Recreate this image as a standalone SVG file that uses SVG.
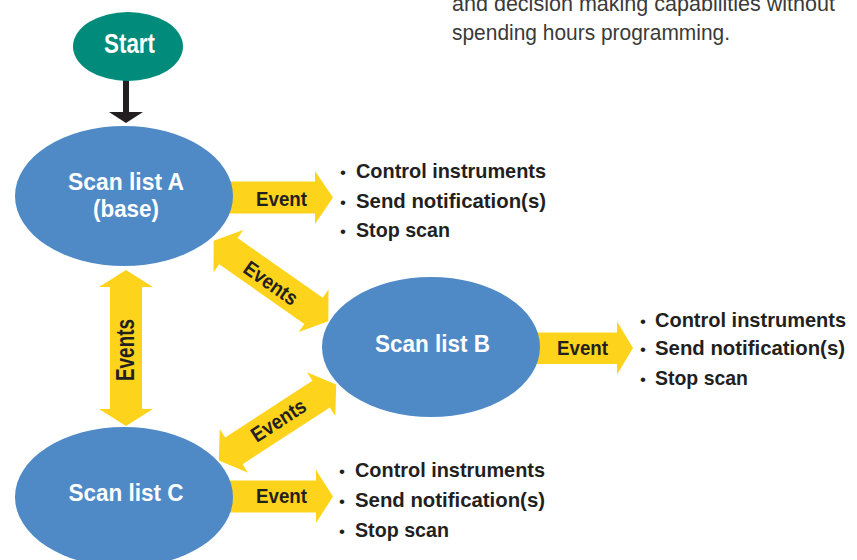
<svg xmlns="http://www.w3.org/2000/svg" width="857" height="560" viewBox="0 0 857 560">
<style>
.t{font-family:"Liberation Sans Narrow","Liberation Sans",Arial,sans-serif;font-weight:bold}
.w{fill:#ffffff}
.d{fill:#231f20}
.para{font-family:"Liberation Sans Narrow","Liberation Sans",Arial,sans-serif;font-size:22px;fill:#3a3a3a}
.blt{font-size:21px}
.dot{font-family:"Liberation Sans",Arial,sans-serif;font-size:17px;fill:#231f20}
.yel{fill:#fdd31c}
.blue{fill:#4f8ac7}
</style>
<defs>
<path id="dbl" d="M-70,0 L-52,-26 L-52,-16 L52,-16 L52,-26 L70,0 L52,26 L52,16 L-52,16 L-52,26 Z"/>
</defs>
<rect width="857" height="560" fill="#ffffff"/>
<g id="intro">
<text class="para" x="452" y="11" textLength="383" lengthAdjust="spacingAndGlyphs">and decision making capabilities without</text>
<text class="para" x="452" y="40" textLength="278" lengthAdjust="spacingAndGlyphs">spending hours programming.</text>
</g>
<g id="connectors">
<g id="start-arrow" fill="#231f20">
<rect x="123" y="80" width="6" height="33"/>
<polygon points="109,112 143,112 126,123"/>
</g>
<g id="event-a">
<polygon class="yel" points="220,181.5 315,181.5 315,171 333,197.5 315,224 315,213.5 220,213.5"/>
<text class="t d" x="281.5" y="206" font-size="21" text-anchor="middle" textLength="51" lengthAdjust="spacingAndGlyphs">Event</text>
</g>
<g id="event-b">
<polygon class="yel" points="530,332.5 617,332.5 617,321.5 633,348 617,374.5 617,364 530,364"/>
<text class="t d" x="582.5" y="355" font-size="21" text-anchor="middle" textLength="51" lengthAdjust="spacingAndGlyphs">Event</text>
</g>
<g id="event-c">
<polygon class="yel" points="220,480.5 316,480.5 316,470 333,496.5 316,523 316,512.5 220,512.5"/>
<text class="t d" x="281.5" y="503" font-size="21" text-anchor="middle" textLength="51" lengthAdjust="spacingAndGlyphs">Event</text>
</g>
<g id="events-ab" transform="translate(271,281) rotate(35)">
<use href="#dbl" class="yel"/>
<text class="t d" x="1" y="9" font-size="21" text-anchor="middle" textLength="61" lengthAdjust="spacingAndGlyphs">Events</text>
</g>
<g id="events-bc" transform="translate(277.5,422.5) rotate(-33)">
<use href="#dbl" class="yel"/>
<text class="t d" x="2" y="6" font-size="21" text-anchor="middle" textLength="61" lengthAdjust="spacingAndGlyphs">Events</text>
</g>
<g id="events-ac">
<path class="yel" d="M126,270 L153,287 L142,287 L142,409 L153,409 L126,426 L99,409 L110,409 L110,287 L99,287 Z"/>
<text class="t d" transform="translate(134,350) rotate(-90)" x="0" y="0" font-size="25" text-anchor="middle" textLength="62" lengthAdjust="spacingAndGlyphs">Events</text>
</g>
</g>
<g id="node-start">
<ellipse cx="128" cy="46.5" rx="55" ry="34.5" fill="#008b7a"/>
<text class="t w" x="129.5" y="52.5" font-size="27" text-anchor="middle" textLength="51" lengthAdjust="spacingAndGlyphs">Start</text>
</g>
<g id="node-a">
<ellipse class="blue" cx="124" cy="196" rx="109" ry="70"/>
<text class="t w" x="126" y="190" font-size="23" text-anchor="middle" textLength="116" lengthAdjust="spacingAndGlyphs">Scan list A</text>
<text class="t w" x="126" y="217" font-size="23" text-anchor="middle" textLength="66" lengthAdjust="spacingAndGlyphs">(base)</text>
</g>
<g id="node-b">
<ellipse class="blue" cx="431" cy="347" rx="109" ry="70"/>
<text class="t w" x="432.5" y="352" font-size="23" text-anchor="middle" textLength="115" lengthAdjust="spacingAndGlyphs">Scan list B</text>
</g>
<g id="node-c">
<ellipse class="blue" cx="124" cy="497" rx="109" ry="70"/>
<text class="t w" x="126" y="501" font-size="23" text-anchor="middle" textLength="115" lengthAdjust="spacingAndGlyphs">Scan list C</text>
</g>
<g id="actions-a">
<text class="dot" x="340" y="178">•</text>
<text class="dot" x="340" y="208">•</text>
<text class="dot" x="340" y="237">•</text>
<text class="t d blt" x="356" y="178" textLength="190" lengthAdjust="spacingAndGlyphs">Control instruments</text>
<text class="t d blt" x="356" y="208" textLength="190" lengthAdjust="spacingAndGlyphs">Send notification(s)</text>
<text class="t d blt" x="356" y="237" textLength="94" lengthAdjust="spacingAndGlyphs">Stop scan</text>
</g>
<g id="actions-b">
<text class="dot" x="640" y="327">•</text>
<text class="dot" x="640" y="355">•</text>
<text class="dot" x="640" y="385">•</text>
<text class="t d blt" x="655" y="327" textLength="191" lengthAdjust="spacingAndGlyphs">Control instruments</text>
<text class="t d blt" x="655" y="355" textLength="190" lengthAdjust="spacingAndGlyphs">Send notification(s)</text>
<text class="t d blt" x="655" y="385" textLength="93" lengthAdjust="spacingAndGlyphs">Stop scan</text>
</g>
<g id="actions-c">
<text class="dot" x="339" y="477">•</text>
<text class="dot" x="339" y="507">•</text>
<text class="dot" x="339" y="537">•</text>
<text class="t d blt" x="355" y="477" textLength="190" lengthAdjust="spacingAndGlyphs">Control instruments</text>
<text class="t d blt" x="355" y="507" textLength="190" lengthAdjust="spacingAndGlyphs">Send notification(s)</text>
<text class="t d blt" x="355" y="537" textLength="94" lengthAdjust="spacingAndGlyphs">Stop scan</text>
</g>
</svg>
